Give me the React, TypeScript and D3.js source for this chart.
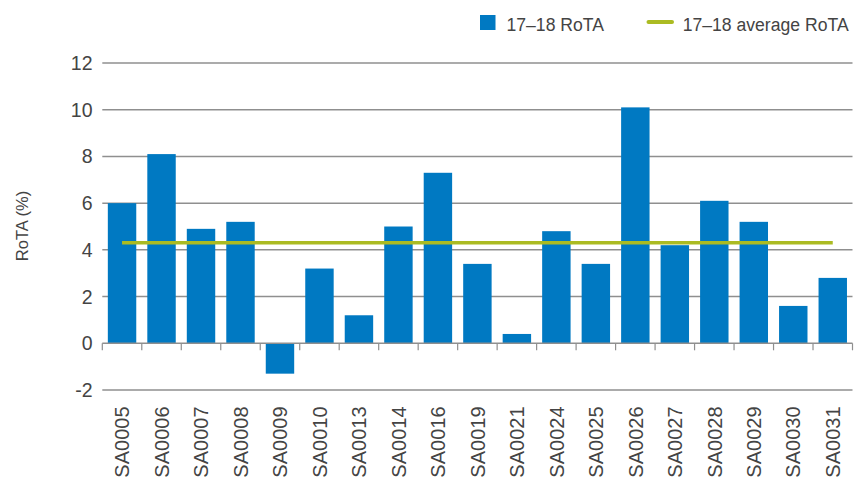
import React, { useEffect, useRef } from "react";
import * as d3 from "d3";

const categories = ["SA0005","SA0006","SA0007","SA0008","SA0009","SA0010","SA0013","SA0014","SA0016","SA0019","SA0021","SA0024","SA0025","SA0026","SA0027","SA0028","SA0029","SA0030","SA0031"];
const rota = [6.0, 8.1, 4.9, 5.2, -1.3, 3.2, 1.2, 5.0, 7.3, 3.4, 0.4, 4.8, 3.4, 10.1, 4.2, 6.1, 5.2, 1.6, 2.8];
const averageRota = 4.3;
const yTicks = [-2, 0, 2, 4, 6, 8, 10, 12];
const legendLabels = ["17\u201318 RoTA", "17\u201318 average RoTA"];
const yTitle = "RoTA (%)";

const W = 864, H = 481;
const BLUE = "#0079c2";
const GREEN = "#abbb22";
const TEXT = "#444444";
const FONT = "'Liberation Sans', Arial, Helvetica, sans-serif";

export default function App() {
  const ref = useRef<SVGSVGElement | null>(null);
  useEffect(() => {
    document.body.style.margin = "0";
    const svg = d3.select(ref.current);
    svg.selectAll("*").remove();
    const left = 102.3, right = 852.5, top = 63, zeroY = 343.3;
    const y = d3.scaleLinear().domain([0, 12]).range([zeroY, top]);
    const x = d3.scaleBand<string>().domain(categories).range([left, right]).paddingInner(0.28).paddingOuter(0.14);

    const g = svg.append("g");
    // gridlines
    g.selectAll("line.grid").data(yTicks.filter(t => t !== 0)).enter().append("line")
      .attr("x1", left).attr("x2", right)
      .attr("y1", d => y(d)).attr("y2", d => y(d))
      .attr("stroke", "#8f8f8f").attr("stroke-width", 1.5);
    // y tick labels
    g.selectAll("text.yt").data(yTicks).enter().append("text")
      .attr("x", 92.5).attr("y", d => y(d)).attr("dy", "0.36em")
      .attr("text-anchor", "end").attr("font-family", FONT).attr("font-size", 19.5)
      .attr("fill", TEXT).text(d => String(d));
    // bars
    g.selectAll("rect.bar").data(categories).enter().append("rect")
      .attr("x", d => x(d)!).attr("width", x.bandwidth())
      .attr("y", (d, i) => Math.min(y(rota[i]), y(0)))
      .attr("height", (d, i) => Math.abs(y(rota[i]) - y(0)))
      .attr("fill", BLUE);
    // zero axis
    g.append("line").attr("x1", left).attr("x2", right).attr("y1", y(0)).attr("y2", y(0))
      .attr("stroke", "#8f8f8f").attr("stroke-width", 1.5);
    const step = (right - left) / categories.length;
    const tickXs = d3.range(categories.length + 1).map(i => left + i * step);
    g.selectAll("line.xt").data(tickXs).enter().append("line")
      .attr("x1", d => d).attr("x2", d => d).attr("y1", y(0)).attr("y2", y(0) + 7)
      .attr("stroke", "#8f8f8f").attr("stroke-width", 1.2);
    // x labels
    g.selectAll("text.xl").data(categories).enter().append("text")
      .attr("transform", d => `translate(${x(d)! + x.bandwidth() / 2},406.5) rotate(-90)`)
      .attr("dy", "0.36em").attr("text-anchor", "end")
      .attr("font-family", FONT).attr("font-size", 20).attr("fill", TEXT).text(d => d);
    // average line
    const first = categories[0], last = categories[categories.length - 1];
    const line = d3.line<number>().x(d => d).y(() => y(averageRota));
    g.append("path")
      .attr("d", line([x(first)! + x.bandwidth() / 2, x(last)! + x.bandwidth() / 2]))
      .attr("stroke", GREEN).attr("stroke-width", 3.5).attr("fill", "none");
    // y title
    svg.append("text").attr("transform", "translate(21.7,226) rotate(-90)")
      .attr("dy", "0.36em").attr("text-anchor", "middle")
      .attr("font-family", FONT).attr("font-size", 16.5).attr("fill", TEXT).text(yTitle);
    // legend
    svg.append("rect").attr("x", 480).attr("y", 15).attr("width", 15.5).attr("height", 15).attr("fill", BLUE);
    svg.append("text").attr("x", 506.5).attr("y", 31).attr("font-family", FONT).attr("font-size", 17.6)
      .attr("fill", TEXT).text(legendLabels[0]);
    svg.append("line").attr("x1", 648.5).attr("x2", 672).attr("y1", 22).attr("y2", 22)
      .attr("stroke", GREEN).attr("stroke-width", 4).attr("stroke-linecap", "round");
    svg.append("text").attr("x", 682.7).attr("y", 31).attr("font-family", FONT).attr("font-size", 17.6)
      .attr("fill", TEXT).text(legendLabels[1]);
  }, []);
  return <svg ref={ref} width={W} height={H} style={{ display: "block" }} />;
}
